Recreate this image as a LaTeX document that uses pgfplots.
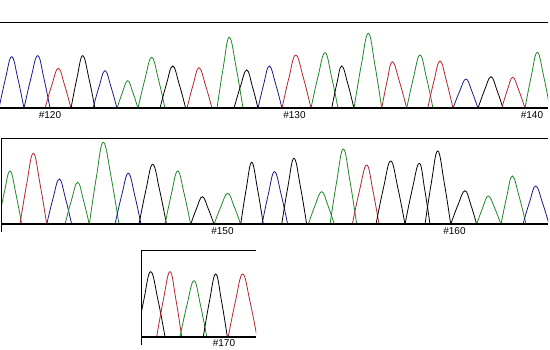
\documentclass[border=0pt]{standalone}
\usepackage{fontspec}
\setmainfont{Liberation Sans}
\usepackage{pgfplots}
\pgfplotsset{compat=1.18}
\definecolor{cB}{RGB}{25,25,140}
\definecolor{cR}{RGB}{185,35,45}
\definecolor{cG}{RGB}{30,135,40}
\definecolor{cK}{RGB}{0,0,0}
\pgfplotsset{
  trace/.style={scale only axis, anchor=south west, hide axis, clip=true, ymin=0,
    every axis plot/.append style={smooth, tension=0.7, line width=0.8pt, mark=none}},
  B/.style={cB}, R/.style={cR}, G/.style={cG}, K/.style={cK},
}
\newcommand{\lbl}[2]{\node[font=\fontsize{10}{12}\selectfont, inner sep=0pt] at (axis cs:#1,-6.3) {#2};}
\begin{document}
\begin{tikzpicture}[x=1pt,y=1pt]
\useasboundingbox (0,0) rectangle (550,350);
% ---------------- top panel ----------------
\begin{axis}[trace, at={(0pt,241.7pt)}, width=548pt, height=86.3pt, xmin=0, xmax=548, ymax=86.3,
  after end axis/.code={
    \draw[line width=0.9pt] (rel axis cs:0,1) -- (rel axis cs:1,1);
    \draw[line width=2.3pt] (rel axis cs:0,0) -- (rel axis cs:1,0);
    \lbl{50}{\#120}\lbl{294.5}{\#130}\lbl{532}{\#140}
  }]
\addplot[B] coordinates {(-1,0)(5.4,29.4)(11.7,51.6)(17.9,29.4)(24,0)};
\addplot[B] coordinates {(24,0)(30.9,30.0)(37.7,52.6)(43.9,30.0)(50,0)};
\addplot[R] coordinates {(45,0)(51.7,22.8)(58.3,40)(64.7,22.8)(71,0)};
\addplot[K] coordinates {(71,0)(76.9,30.0)(82.7,52.6)(88.9,30.0)(95,0)};
\addplot[B] coordinates {(93,0)(99,21.4)(105,37.6)(111,21.4)(117,0)};
\addplot[G] coordinates {(117,0)(122.4,15.7)(127.7,27.6)(132.9,15.7)(138,0)};
\addplot[G] coordinates {(138,0)(144.9,29.1)(151.7,51)(158.4,29.1)(165,0)};
\addplot[K] coordinates {(160,0)(166.4,24.1)(172.7,42.3)(179.2,24.1)(185.7,0)};
\addplot[R] coordinates {(187,0)(193,23.1)(199,40.6)(205.5,23.1)(212,0)};
\addplot[G] coordinates {(217,0)(223.2,40.5)(229.3,71)(236.2,40.5)(243,0)};
\addplot[K] coordinates {(234,0)(240.4,21.8)(246.7,38.3)(252.4,21.8)(258,0)};
\addplot[B] coordinates {(258,0)(263.7,24.1)(269.3,42.3)(275.7,24.1)(282,0)};
\addplot[R] coordinates {(282,0)(288.9,30.4)(295.7,53.3)(303.4,30.4)(311,0)};
\addplot[G] coordinates {(311,0)(318,31.7)(325,55.6)(331.5,31.7)(338,0)};
\addplot[K] coordinates {(331.7,0)(336.7,24.1)(341.7,42.3)(347.9,24.1)(354,0)};
\addplot[G] coordinates {(354,0)(361.2,42.8)(368.3,75)(375,42.8)(381.7,0)};
\addplot[R] coordinates {(381.7,0)(387,26.6)(392.3,46.6)(399.5,26.6)(406.7,0)};
\addplot[G] coordinates {(406.7,0)(413.4,30.4)(420,53.3)(426.5,30.4)(433,0)};
\addplot[R] coordinates {(427.7,0)(433.9,27.0)(440,47.3)(446.5,27.0)(453,0)};
\addplot[B] coordinates {(453,0)(459.5,16.7)(466,29.3)(472,16.7)(478,0)};
\addplot[K] coordinates {(478,0)(484.5,18.0)(491,31.6)(497,18.0)(503,0)};
\addplot[R] coordinates {(501.7,0)(507.2,17.7)(512.7,31)(518.9,17.7)(525,0)};
\addplot[G] coordinates {(525,0)(531.2,31.9)(537.3,56)(543.7,31.9)(550,0)};
\end{axis}
% ---------------- middle panel ----------------
\begin{axis}[trace, at={(1.7pt,125.7pt)}, width=546.3pt, height=86.3pt, xmin=1.7, xmax=548, ymax=86.3,
  after end axis/.code={
    \draw[line width=0.9pt] (rel axis cs:0,1) -- (rel axis cs:1,1);
    \draw[line width=0.9pt] (rel axis cs:0,1) -- ([yshift=-7.5pt]rel axis cs:0,0);
    \draw[line width=2.3pt] (rel axis cs:0,0) -- (rel axis cs:1,0);
    \lbl{222.5}{\#150}\lbl{454.5}{\#160}
  }]
\addplot[G] coordinates {(-2,0)(4,30.4)(10,53.3)(15.9,30.4)(21.7,0)};
\addplot[R] coordinates {(20,0)(26.7,40.5)(33.3,71)(40,40.5)(46.7,0)};
\addplot[B] coordinates {(46.7,0)(53,25.8)(59.3,45.3)(65.5,25.8)(71.7,0)};
\addplot[G] coordinates {(65,0)(71.4,23.9)(77.7,42)(83.5,23.9)(89.3,0)};
\addplot[G] coordinates {(89.3,0)(96.3,46.7)(103.3,82)(111.2,46.7)(119,0)};
\addplot[B] coordinates {(115,0)(121.7,29.1)(128.3,51)(134.7,29.1)(141,0)};
\addplot[K] coordinates {(139,0)(145.9,34.2)(152.7,60)(159.6,34.2)(166.5,0)};
\addplot[G] coordinates {(165,0)(171.4,30.4)(177.7,53.3)(184.2,30.4)(190.7,0)};
\addplot[K] coordinates {(190.7,0)(196.5,15.7)(202.3,27.6)(208.2,15.7)(214,0)};
\addplot[G] coordinates {(214,0)(220.9,17.7)(227.7,31)(234.2,17.7)(240.7,0)};
\addplot[K] coordinates {(240.7,0)(246.2,35.3)(251.7,62)(257.5,35.3)(263.3,0)};
\addplot[B] coordinates {(262,0)(268.3,30.0)(274.5,52.6)(281.1,30.0)(287.7,0)};
\addplot[K] coordinates {(281.7,0)(287.9,37.6)(294,66)(300.4,37.6)(306.7,0)};
\addplot[G] coordinates {(308.3,0)(315,18.6)(321.7,32.6)(328,18.6)(334.3,0)};
\addplot[G] coordinates {(330,0)(336.7,42.9)(343.3,75.3)(350,42.9)(356.7,0)};
\addplot[R] coordinates {(352.3,0)(359.5,33.8)(366.7,59.3)(372.9,33.8)(379,0)};
\addplot[K] coordinates {(376,0)(383.4,36.1)(390.7,63.3)(397.9,36.1)(405,0)};
\addplot[K] coordinates {(405,0)(412.2,34.8)(419.3,61)(424.7,34.8)(430,0)};
\addplot[K] coordinates {(425,0)(431.4,41.8)(437.7,73.3)(444.2,41.8)(450.7,0)};
\addplot[K] coordinates {(450.7,0)(457.9,19.2)(465,33.6)(470.9,19.2)(476.7,0)};
\addplot[G] coordinates {(476.7,0)(482.5,16.1)(488.3,28.3)(494.7,16.1)(501,0)};
\addplot[G] coordinates {(501,0)(506.7,27.5)(512.3,48.3)(519.2,27.5)(526,0)};
\addplot[B] coordinates {(523,0)(529.4,21.8)(535.7,38.3)(542.4,21.8)(549,0)};
\end{axis}
% ---------------- bottom panel ----------------
\begin{axis}[trace, at={(141.7pt,13.3pt)}, width=114.3pt, height=86.7pt, xmin=141.7, xmax=256, ymax=86.7,
  after end axis/.code={
    \draw[line width=0.9pt] (rel axis cs:0,1) -- (rel axis cs:1,1);
    \draw[line width=0.9pt] (rel axis cs:0,1) -- ([yshift=-8.5pt]rel axis cs:0,0);
    \draw[line width=2.3pt] (rel axis cs:0,0) -- (rel axis cs:1,0);
    \lbl{224}{\#170}
  }]
\addplot[K] coordinates {(137,0)(143.9,37.1)(150.7,65)(157.9,37.1)(165,0)};
\addplot[R] coordinates {(156.7,0)(163.4,37.1)(170,65)(175.9,37.1)(181.7,0)};
\addplot[G] coordinates {(180,0)(187,31.9)(194,56)(200.4,31.9)(206.7,0)};
\addplot[K] coordinates {(203.3,0)(209.5,35.7)(215.7,62.7)(221.5,35.7)(227.3,0)};
\addplot[R] coordinates {(228.3,0)(235.5,35.7)(242.7,62.7)(249.9,35.7)(257,0)};
\end{axis}
\end{tikzpicture}
\end{document}
